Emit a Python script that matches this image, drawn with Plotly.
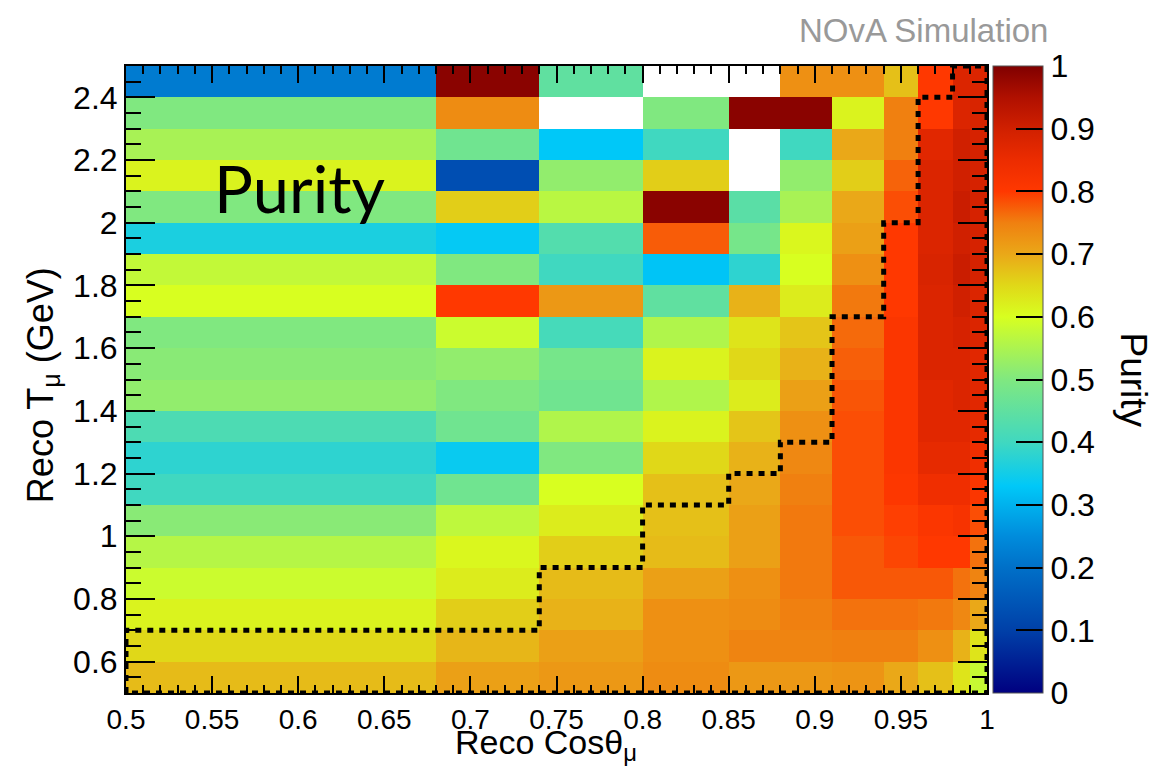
import numpy as np
import plotly.graph_objects as go

# ---------------- data ----------------
# bin edges
cos_edges = [0.50, 0.68, 0.74, 0.80, 0.85, 0.88, 0.91, 0.94, 0.96, 0.98, 0.99, 1.00]
t_edges = [0.5, 0.6, 0.7, 0.8, 0.9, 1.0, 1.1, 1.2, 1.3, 1.4, 1.5,
           1.6, 1.7, 1.8, 1.9, 2.0, 2.1, 2.2, 2.3, 2.4, 2.5]

nan = float("nan")
# purity per cos bin, listed from the lowest T bin (0.5-0.6) to the highest (2.4-2.5)
pur_050_068 = [0.68, 0.65, 0.615, 0.585, 0.56, 0.51, 0.40, 0.38, 0.42, 0.52,
               0.51, 0.50, 0.60, 0.575, 0.36, 0.50, 0.615, 0.545, 0.50, 0.22]
pur_068_074 = [0.71, 0.685, 0.66, 0.625, 0.61, 0.57, 0.475, 0.34, 0.475, 0.50,
               0.52, 0.585, 0.80, 0.50, 0.335, 0.66, 0.13, 0.475, 0.735, 0.99]
pur_074_080 = [0.72, 0.71, 0.69, 0.68, 0.66, 0.625, 0.60, 0.50, 0.555, 0.475,
               0.485, 0.41, 0.72, 0.40, 0.43, 0.565, 0.52, 0.33, nan, 0.45]
pur_080_085 = [0.735, 0.73, 0.73, 0.71, 0.68, 0.675, 0.675, 0.65, 0.615, 0.555,
               0.615, 0.555, 0.45, 0.325, 0.775, 0.99, 0.66, 0.40, 0.50, nan]
pur_085_088 = [0.72, 0.745, 0.735, 0.73, 0.71, 0.71, 0.70, 0.69, 0.67, 0.625,
               0.65, 0.635, 0.69, 0.38, 0.485, 0.44, nan, nan, 0.99, nan]
pur_088_091 = [0.72, 0.745, 0.75, 0.755, 0.755, 0.755, 0.75, 0.74, 0.73, 0.71,
               0.69, 0.67, 0.625, 0.60, 0.61, 0.545, 0.52, 0.40, 0.99, 0.73]
pur_091_094 = [0.725, 0.75, 0.76, 0.778, 0.778, 0.785, 0.785, 0.785, 0.785, 0.78,
               0.773, 0.765, 0.755, 0.73, 0.71, 0.70, 0.66, 0.70, 0.615, 0.73]
pur_094_096 = [0.70, 0.75, 0.76, 0.778, 0.79, 0.795, 0.805, 0.81, 0.81, 0.81,
               0.81, 0.81, 0.80, 0.80, 0.80, 0.785, 0.77, 0.75, 0.75, 0.675]
pur_096_098 = [0.675, 0.73, 0.755, 0.778, 0.80, 0.81, 0.84, 0.86, 0.87, 0.87,
               0.88, 0.88, 0.88, 0.885, 0.88, 0.88, 0.88, 0.87, 0.80, 0.80]
pur_098_099 = [0.635, 0.69, 0.74, 0.76, 0.80, 0.82, 0.84, 0.86, 0.87, 0.88,
               0.88, 0.89, 0.90, 0.91, 0.90, 0.91, 0.90, 0.90, 0.88, 0.88]
pur_099_100 = [0.58, 0.635, 0.70, 0.745, 0.76, 0.785, 0.81, 0.84, 0.86, 0.87,
               0.87, 0.88, 0.88, 0.89, 0.89, 0.89, 0.89, 0.89, 0.885, 0.88]

columns = [pur_050_068, pur_068_074, pur_074_080, pur_080_085, pur_085_088,
           pur_088_091, pur_091_094, pur_094_096, pur_096_098, pur_098_099,
           pur_099_100]

# selection boundary (dashed contour)
cut_cos = [0.50, 0.50, 0.74, 0.74, 0.80, 0.80, 0.85, 0.85, 0.88, 0.88, 0.91, 0.91,
           0.94, 0.94, 0.96, 0.96, 0.98, 0.98, 1.00, 1.00, 0.50]
cut_t = [0.5, 0.7, 0.7, 0.9, 0.9, 1.1, 1.1, 1.2, 1.2, 1.3, 1.3, 1.7,
         1.7, 2.0, 2.0, 2.4, 2.4, 2.5, 2.5, 0.5, 0.5]

cb_ticks = [0, 0.1, 0.2, 0.3, 0.4, 0.5, 0.6, 0.7, 0.8, 0.9, 1]

# ---------------- style ----------------
z = np.array(columns, dtype=float).T  # rows = T bins, cols = cos bins

colorscale = [
    [0.00, "#000080"],
    [0.10, "#0040a8"],
    [0.20, "#0070c8"],
    [0.25, "#008cdc"],
    [0.33, "#00c8f8"],
    [0.40, "#40d8c0"],
    [0.50, "#80e880"],
    [0.60, "#d8ff20"],
    [0.65, "#e0d818"],
    [0.70, "#eaa818"],
    [0.75, "#f08010"],
    [0.80, "#ff3800"],
    [0.85, "#ec2c00"],
    [0.90, "#d02000"],
    [0.95, "#b01000"],
    [1.00, "#800000"],
]

FONT = "Liberation Sans, Arial, Helvetica, sans-serif"

fig = go.Figure()
fig.add_trace(go.Heatmap(
    x=cos_edges, y=t_edges, z=z,
    zmin=0, zmax=1, colorscale=colorscale,
    hoverongaps=False,
    colorbar=dict(
        x=1.007, xanchor="left", xpad=0, y=0.5, yanchor="middle", ypad=0,
        len=1, lenmode="fraction", thickness=50,
        tickmode="array", tickvals=cb_ticks,
        ticks="inside", ticklen=27, tickwidth=2, tickcolor="black",
        outlinewidth=1, outlinecolor="#555555",
        tickfont=dict(family=FONT, size=32, color="black"),
    ),
))

fig.add_trace(go.Scatter(
    x=cut_cos, y=cut_t, mode="lines",
    line=dict(color="black", width=5, dash="6px,6px"),
    hoverinfo="skip", showlegend=False,
))

axis_common = dict(
    showline=True, linecolor="black", linewidth=2, mirror="allticks",
    ticks="inside", tickcolor="black", tickwidth=2,
    showgrid=False, zeroline=False, automargin=False,
)

fig.update_xaxes(
    range=[0.5, 1.0], dtick=0.05, tick0=0.5, ticklen=17,
    minor=dict(dtick=0.01, ticks="inside", ticklen=8, tickwidth=2, tickcolor="black", showgrid=False),
    tickfont=dict(family=FONT, size=28, color="black"),
    **axis_common,
)
fig.update_yaxes(
    range=[0.5, 2.5], dtick=0.2, tick0=0.0, ticklen=29,
    minor=dict(dtick=0.05, ticks="inside", ticklen=15, tickwidth=2, tickcolor="black", showgrid=False),
    tickfont=dict(family=FONT, size=32, color="black"),
    **axis_common,
)

# axis titles
fig.add_annotation(
    text="Reco Cosθ<sub>μ</sub>", xref="paper", yref="paper", x=0.488, y=-0.0825,
    xanchor="center", yanchor="middle", showarrow=False,
    font=dict(family=FONT, size=34, color="black"),
)
fig.add_annotation(
    text="Reco T<sub>μ</sub> (GeV)", xref="paper", yref="paper", x=-0.0964, y=0.491,
    xanchor="center", yanchor="middle", showarrow=False, textangle=-90,
    font=dict(family=FONT, size=36, color="black"),
)

fig.add_annotation(
    text="NOvA Simulation", xref="paper", yref="paper", x=1.073, y=1.057,
    xanchor="right", yanchor="middle", showarrow=False,
    font=dict(family=FONT, size=33, color="#999999"),
)
fig.add_annotation(
    text="Purity", xref="paper", yref="paper", x=0.202, y=0.805,
    xanchor="center", yanchor="middle", showarrow=False,
    font=dict(family="Lato, Open Sans, sans-serif", size=65, color="black"),
)
fig.add_annotation(
    text="Purity", xref="paper", yref="paper", x=1.1696, y=0.5,
    xanchor="center", yanchor="middle", showarrow=False, textangle=90,
    font=dict(family=FONT, size=37, color="black"),
)

fig.update_layout(
    width=1173, height=766,
    margin=dict(l=126, r=186, t=66, b=73, autoexpand=False),
    paper_bgcolor="white", plot_bgcolor="white",
    showlegend=False,
)

fig.write_html("out.html")
